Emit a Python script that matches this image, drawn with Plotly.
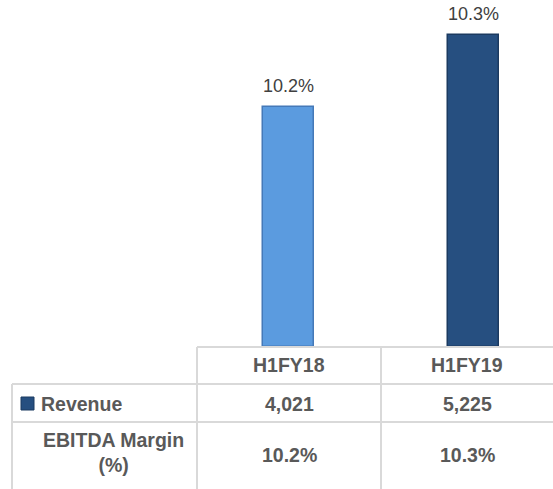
import plotly.graph_objects as go

periods = ["H1FY18", "H1FY19"]
revenue = [4021, 5225]
ebitda_margin = [10.2, 10.3]
row_labels = ["Revenue", "EBITDA Margin<br>(%)"]

W, H = 553, 489
bar_fill = ["#5B9BDF", "#264F80"]
bar_edge = ["#4579B8", "#1B3A60"]
text_col = "#595959"
grid_col = "#D9D9D9"
FONT = "Liberation Sans"

def px(x):
    return x / W

def py(y):
    return 1 - y / H

fig = go.Figure()
fig.add_trace(go.Bar(
    x=periods, y=revenue,
    marker=dict(color=bar_fill, line=dict(color=bar_edge, width=1.5)),
    width=0.276, showlegend=False, hoverinfo="skip",
))

annotations = []
for p, v, m in zip(periods, revenue, ebitda_margin):
    annotations.append(dict(x=p, y=v, xref="x", yref="y", text=f"{m:.1f}%",
                            showarrow=False, xanchor="center", yanchor="bottom", yshift=9,
                            font=dict(family=FONT, size=18, color="#404040")))

def cell(x, y, text, xanchor="center", size=19.5):
    annotations.append(dict(x=px(x), y=py(y), xref="paper", yref="paper", text=text,
                            showarrow=False, xanchor=xanchor, yanchor="middle", align="center",
                            font=dict(family=FONT, size=size, color=text_col)))

col_centers = [289, 467]
for cx, p, v, m in zip(col_centers, periods, revenue, ebitda_margin):
    cell(cx, 365, f"<b>{p}</b>")
    cell(cx, 404, f"<b>{v:,}</b>")
    cell(cx, 455, f"<b>{m:.1f}%</b>")

cell(39, 404, f"<b>{row_labels[0]}</b>", xanchor="left")
cell(113, 452, f"<b>{row_labels[1]}</b>")

shapes = []
def line(x0, y0, x1, y1):
    shapes.append(dict(type="line", xref="paper", yref="paper",
                       x0=px(x0), y0=py(y0), x1=px(x1), y1=py(y1),
                       line=dict(color=grid_col, width=2)))

line(197, 347, 553, 347)
line(12, 384, 553, 384)
line(12, 422, 553, 422)
line(197, 347, 197, 489)
line(381, 347, 381, 489)
line(12, 384, 12, 489)

# legend key for Revenue
shapes.append(dict(type="rect", xref="paper", yref="paper",
                   x0=px(21), y0=py(397), x1=px(34), y1=py(410),
                   fillcolor=bar_fill[1], line=dict(color="#1B3A60", width=1)))

y_top = 347 / 0.05971
fig.update_layout(
    width=W, height=H,
    margin=dict(l=0, r=0, t=0, b=0),
    paper_bgcolor="white", plot_bgcolor="white",
    xaxis=dict(domain=[px(197), 1], range=[-0.492, 1.432], showticklabels=False,
               showgrid=False, zeroline=False, showline=False),
    yaxis=dict(domain=[py(347), 1], range=[0, y_top], showticklabels=False,
               showgrid=False, zeroline=False, showline=False),
    annotations=annotations, shapes=shapes,
    bargap=0,
)

fig.write_html("out.html", config={"displayModeBar": False},
               post_script="document.body.style.margin='0px';")
